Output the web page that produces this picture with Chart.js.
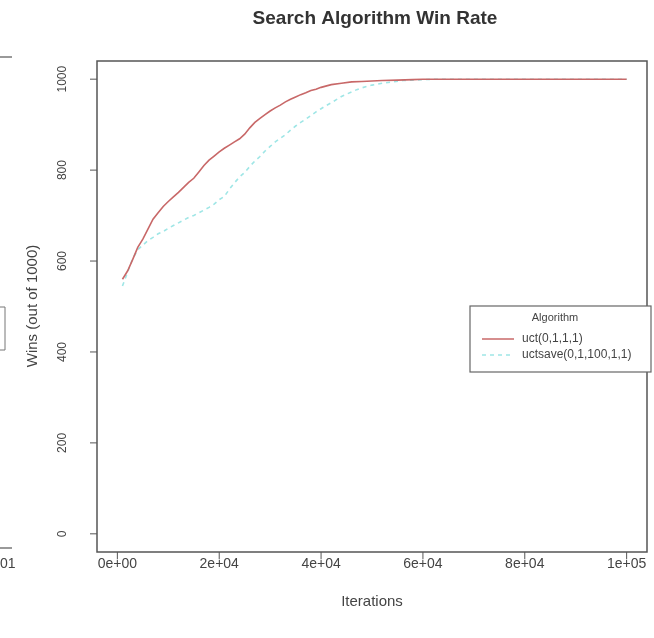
<!DOCTYPE html>
<html>
<head>
<meta charset="utf-8">
<script src="https://cdn.jsdelivr.net/npm/chart.js"></script>
<style>
html,body{margin:0;padding:0;background:#fff;}
#wrap{width:654px;height:638px;}
</style>
</head>
<body>
<div id="wrap"><canvas id="c" width="654" height="638"></canvas></div>
<script>
const titleText = "Search Algorithm Win Rate";
const xTitle = "Iterations";
const yTitle = "Wins (out of 1000)";
const legendTitle = "Algorithm";
const seriesNames = ["uct(0,1,1,1)", "uctsave(0,1,100,1,1)"];
const xTickValues = [0, 20000, 40000, 60000, 80000, 100000];
const xTickLabels = ["0e+00", "2e+04", "4e+04", "6e+04", "8e+04", "1e+05"];
const yTickValues = [0, 200, 400, 600, 800, 1000];
const yTickLabels = ["0", "200", "400", "600", "800", "1000"];

const uctIter = [1000,2000,3000,4000,5000,6000,7000,8000,9000,10000,11000,12000,13000,14000,15000,16000,17000,18000,19000,20000,21000,22000,23000,24000,25000,26000,27000,28000,29000,30000,31000,32000,33000,34000,35000,36000,37000,38000,39000,40000,42000,44000,46000,48000,50000,52000,55000,58000,60000,100000];
const uctWins = [560,578,603,630,648,670,692,706,720,731,741,751,762,773,782,796,810,822,831,840,848,855,862,869,879,893,905,914,922,930,937,943,950,956,961,966,970,975,978,982,988,991,994,995,996,997,998,999,1000,1000];

const saveIter = [1000,2000,3000,4000,5000,6000,7000,8000,9000,10000,11000,12000,13000,14000,15000,16000,17000,18000,19000,20000,21000,22000,23000,24000,25000,26000,27000,28000,29000,30000,31000,32000,33000,34000,35000,36000,37000,38000,39000,40000,41000,42000,43000,44000,45000,46000,47000,48000,50000,52000,54000,56000,58000,60000,62000,100000];
const saveWins = [545,575,605,625,635,645,652,660,665,672,678,684,690,696,700,706,712,718,725,735,742,758,772,785,795,808,820,830,842,852,862,870,878,888,897,905,912,920,928,935,942,948,955,962,967,972,977,981,987,991,994,997,998,999,1000,1000];

const colors = ["#c86868", "#9fe6e6"];
const toXY = (xs, ys) => xs.map((x, i) => ({x: x, y: ys[i]}));

const FONT = '"Liberation Sans", Arial, sans-serif';
const TXT = '#444';

const decor = {
  id: 'decor',
  afterDraw(chart) {
    const ctx = chart.ctx;
    const a = chart.chartArea;
    const xs = chart.scales.x, ys = chart.scales.y;
    ctx.save();
    // box
    ctx.strokeStyle = '#555';
    ctx.lineWidth = 1.5;
    ctx.strokeRect(a.left, a.top, a.right - a.left, a.bottom - a.top);
    // x ticks
    ctx.lineWidth = 1;
    ctx.fillStyle = TXT;
    ctx.font = '14px ' + FONT;
    ctx.textAlign = 'center';
    ctx.textBaseline = 'middle';
    xTickValues.forEach((v, i) => {
      const px = xs.getPixelForValue(v);
      ctx.beginPath(); ctx.moveTo(px, a.bottom); ctx.lineTo(px, a.bottom + 7); ctx.stroke();
      ctx.fillText(xTickLabels[i], px, a.bottom + 12);
    });
    // y ticks
    ctx.font = '12px ' + FONT;
    yTickValues.forEach((v, i) => {
      const py = ys.getPixelForValue(v);
      ctx.beginPath(); ctx.moveTo(a.left, py); ctx.lineTo(a.left - 7, py); ctx.stroke();
      ctx.save();
      ctx.translate(a.left - 34, py);
      ctx.rotate(-Math.PI / 2);
      ctx.fillText(yTickLabels[i], 0, 0);
      ctx.restore();
    });
    // titles
    ctx.font = 'bold 19px ' + FONT;
    ctx.fillStyle = '#333';
    ctx.fillText(titleText, (a.left + a.right) / 2 + 3, 19);
    ctx.font = '15px ' + FONT;
    ctx.fillStyle = TXT;
    ctx.fillText(xTitle, (a.left + a.right) / 2, 602);
    ctx.save();
    ctx.translate(33, 306);
    ctx.rotate(-Math.PI / 2);
    ctx.fillText(yTitle, 0, 0);
    ctx.restore();
    // legend
    const lx = 470, ly = 306, lw = 181, lh = 66;
    ctx.fillStyle = '#fff';
    ctx.fillRect(lx, ly, lw, lh);
    ctx.strokeStyle = '#666';
    ctx.lineWidth = 1.2;
    ctx.strokeRect(lx, ly, lw, lh);
    ctx.fillStyle = TXT;
    ctx.font = '11px ' + FONT;
    ctx.textAlign = 'center';
    ctx.fillText(legendTitle, lx + 85, ly + 12);
    ctx.textAlign = 'left';
    chart.data.datasets.forEach((ds, i) => {
      const yy = ly + 33 + i * 16;
      ctx.strokeStyle = ds.borderColor;
      ctx.lineWidth = 1.5;
      ctx.setLineDash(ds.borderDash || []);
      ctx.beginPath(); ctx.moveTo(lx + 12, yy); ctx.lineTo(lx + 44, yy); ctx.stroke();
      ctx.setLineDash([]);
      ctx.fillStyle = TXT;
      ctx.font = '12px ' + FONT;
      ctx.fillText(ds.label, lx + 52, yy);
    });
    // remnants of neighbouring panel at left edge
    ctx.strokeStyle = '#777';
    ctx.lineWidth = 1.5;
    ctx.beginPath(); ctx.moveTo(0, 57); ctx.lineTo(12, 57); ctx.stroke();
    ctx.beginPath(); ctx.moveTo(0, 548); ctx.lineTo(12, 548); ctx.stroke();
    ctx.lineWidth = 1;
    ctx.beginPath(); ctx.moveTo(0, 307); ctx.lineTo(5, 307); ctx.lineTo(5, 350); ctx.lineTo(0, 350); ctx.stroke();
    ctx.fillStyle = TXT;
    ctx.font = '14px ' + FONT;
    ctx.textAlign = 'left';
    ctx.fillText('01', 0, 564);
    ctx.restore();
  }
};

new Chart(document.getElementById('c'), {
  type: 'line',
  data: {
    datasets: [
      {label: seriesNames[0], data: toXY(uctIter, uctWins), borderColor: colors[0], borderWidth: 1.6, pointRadius: 0, tension: 0, fill: false},
      {label: seriesNames[1], data: toXY(saveIter, saveWins), borderColor: colors[1], borderWidth: 1.6, borderDash: [4, 4], pointRadius: 0, tension: 0, fill: false}
    ]
  },
  options: {
    responsive: false,
    animation: false,
    layout: {padding: {left: 97, top: 61, right: 7, bottom: 86}},
    plugins: {legend: {display: false}, title: {display: false}, tooltip: {enabled: false}},
    scales: {
      x: {type: 'linear', min: -4000, max: 104000, display: false},
      y: {type: 'linear', min: -40, max: 1040, display: false}
    }
  },
  plugins: [decor]
});
</script>
</body>
</html>
